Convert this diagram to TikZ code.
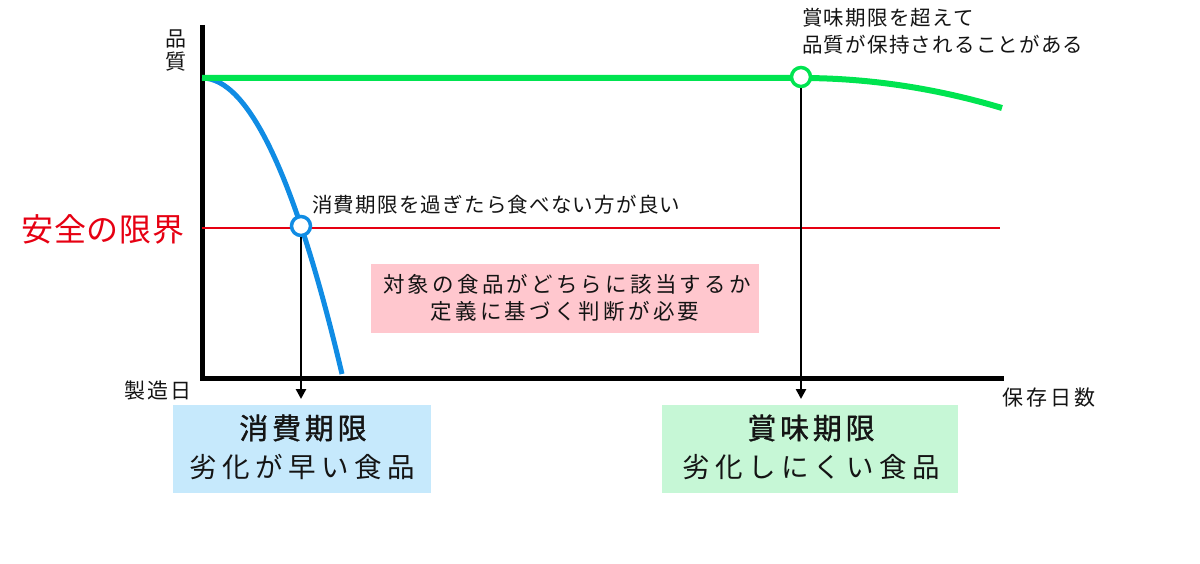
\documentclass[tikz,border=0pt]{standalone}
\usepackage{fontspec}
\setmainfont{Noto Sans CJK JP}
\usetikzlibrary{arrows.meta}
\definecolor{cgreen}{RGB}{0,228,80}
\definecolor{cblue}{RGB}{16,140,228}
\definecolor{cred}{RGB}{230,0,18}
\definecolor{cpink}{RGB}{255,199,206}
\definecolor{lblue}{RGB}{198,233,252}
\definecolor{lgreen}{RGB}{198,247,214}
\definecolor{ctext}{RGB}{20,20,20}
\tikzset{
  txt/.style={inner sep=0pt, text=ctext},
  smallfont/.style={txt, font={\fontsize{20.5}{23}\selectfont\addfontfeature{LetterSpace=6}}},
  axisfont/.style={txt, font={\fontsize{21}{24}\selectfont\addfontfeature{LetterSpace=10}}},
  daysfont/.style={txt, font={\fontsize{21}{24}\selectfont\addfontfeature{LetterSpace=15}}},
  pinkfont/.style={txt, font={\fontsize{21.5}{24}\selectfont\addfontfeature{LetterSpace=15}}},
  titlefont/.style={txt, font={\fontsize{29}{32}\selectfont\addfontfeature{FakeBold=1.2,LetterSpace=13}}},
  subfont/.style={txt, font={\fontsize{27.5}{30}\selectfont\addfontfeature{LetterSpace=20}}},
  redfont/.style={inner sep=0pt, text=cred, font={\fontsize{32}{34}\selectfont\addfontfeature{LetterSpace=2}}},
  boxstyle/.style={inner sep=0pt, draw=none},
  marker/.style={circle, inner sep=0pt, minimum size=19pt, fill=white, line width=3.5pt},
  arr/.style={line width=2.8pt, -{Triangle[width=10pt,length=10pt]}},
}
\begin{document}
\begin{tikzpicture}[x=1pt,y=-1pt]
\useasboundingbox (0,0) rectangle (1200,564);
% boxes
\node[boxstyle, fill=cpink, minimum width=388pt, minimum height=69pt] (pbox) at (565,298.5) {};
\node[boxstyle, fill=lblue, minimum width=258pt, minimum height=88pt] (sbox) at (302,449) {};
\node[boxstyle, fill=lgreen, minimum width=296pt, minimum height=88pt] (mbox) at (809.5,449) {};
% axes
\coordinate (ytop) at (202,25);
\coordinate (orig) at (202,378);
\coordinate (xend) at (1004,378);
\draw[line width=5pt] (ytop) -- (orig) -- (xend);
% safety line
\coordinate (rl) at (202,228);
\coordinate (rr) at (1000,228);
\draw[cred, line width=2.5pt] (rl) -- (rr);
% blue curve
\coordinate (bstart) at (202,78);
\coordinate (bend) at (342,374);
\draw[cblue, line width=5pt] (bstart) .. controls (248.7,78) and (295.3,176.7) .. (bend);
% green curve
\coordinate (gstart) at (202,78);
\coordinate (gknee) at (801,78);
\coordinate (gend) at (1002,108);
\draw[cgreen, line width=6pt] (gstart) -- (gknee) .. controls (868,78) and (935,88) .. (gend);
% markers
\node[marker, draw=cblue] (bc) at (301,226) {};
\node[marker, draw=cgreen] (gc) at (801,77) {};
% arrows
\coordinate (btip) at (301,399);
\coordinate (gtip) at (801,399);
\draw[arr] (bc.south) -- (btip);
\draw[arr] (gc.south) -- (gtip);
% labels
\node[axisfont] (q1) at (176,39) {品};
\node[axisfont] (q2) at (176,62) {質};
\node[axisfont, anchor=east] (mfg) at (192,391) {製造日};
\node[daysfont, anchor=west] (days) at (1002,398) {保存日数};
\node[redfont] (safe) at (103,229) {安全の限界};
\node[smallfont, anchor=west] (warn) at (312,205) {消費期限を過ぎたら食べない方が良い};
\node[smallfont, anchor=west] (ex1) at (802,18) {賞味期限を超えて};
\node[smallfont, anchor=west] (ex2) at (802,45) {品質が保持されることがある};
\node[pinkfont] (p1) at (567,284) {対象の食品がどちらに該当するか};
\node[pinkfont] (p2) at (565,311) {定義に基づく判断が必要};
\node[titlefont] (st) at (303,428) {消費期限};
\node[subfont] (ss) at (302,467) {劣化が早い食品};
\node[titlefont] (mt) at (811,428) {賞味期限};
\node[subfont] (ms) at (811,467) {劣化しにくい食品};
\end{tikzpicture}
\end{document}
